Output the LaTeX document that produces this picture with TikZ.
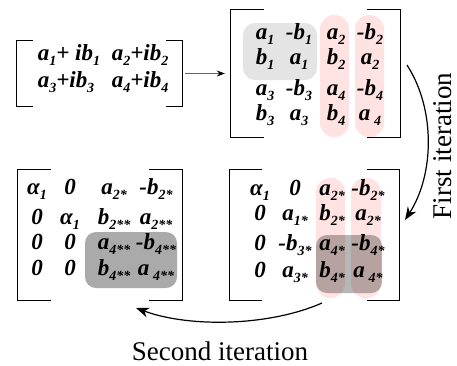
\documentclass[tikz,border=0pt]{standalone}
\usepackage{fontspec}
\setmainfont{Liberation Serif}
\usetikzlibrary{arrows.meta}
\definecolor{boxgray}{RGB}{228,228,228}
\definecolor{colpink}{RGB}{255,226,226}
\definecolor{shadegray}{RGB}{170,170,170}
\newcommand{\ent}[2]{#1\raisebox{-0.22em}{\fontsize{14}{14}\selectfont #2}}
\tikzset{
  entry/.style={font=\fontsize{23}{25}\selectfont\bfseries\itshape, inner sep=0pt, anchor=mid},
  mbox/.style={inner sep=0pt, draw=none},
  bracket/.style={line width=1.1pt},
  iterlabel/.style={font=\fontsize{27}{30}\selectfont, inner sep=0pt},
  iterarrow/.style={line width=1.2pt, -{Stealth[length=13pt, width=10pt, inset=4pt]}}
}
\newcommand{\brackets}[2]{%
  \draw[bracket] ([xshift=#2]#1.north west) -| (#1.south west) -- ++(#2,0);
  \draw[bracket] ([xshift=-#2]#1.north east) -| (#1.south east) -- ++(-#2,0);}

\begin{document}
\begin{tikzpicture}[x=1pt, y=-1pt]
\useasboundingbox (0,0) rectangle (457,365);

% matrix regions
\node (m1) [mbox, minimum width=165pt, minimum height=65pt] at (99.5,73.5) {};
\node (m2) [mbox, minimum width=169pt, minimum height=127pt] at (315.5,73.5) {};
\node (m3) [mbox, minimum width=164pt, minimum height=130pt] at (100,235) {};
\node (m4) [mbox, minimum width=170pt, minimum height=130pt] at (314.5,235) {};

% shaded blocks
\fill[boxgray, rounded corners=12pt] (243,23) rectangle (317,80);
\fill[colpink, rounded corners=14pt] (320,15) rectangle (349,137);
\fill[colpink, rounded corners=14pt] (355,15) rectangle (384,137);
\fill[shadegray, rounded corners=11pt] (85,232) rectangle (177,288);
\fill[colpink, rounded corners=14pt] (316,178) rectangle (345,298);
\fill[colpink, rounded corners=14pt] (351,178) rectangle (381,298);
\fill[shadegray!85, blend mode=multiply, rounded corners=11pt] (316,235) rectangle (382,293);

% brackets
\brackets{m1}{16pt}
\brackets{m2}{33pt}
\brackets{m3}{33pt}
\brackets{m4}{33pt}

% complex matrix
\node (m1-1-1) [entry] at (69,58) {\ent{a}{1}+ i\ent{b}{1}};
\node (m1-1-2) [entry] at (140,58) {\ent{a}{2}+i\ent{b}{2}};
\node (m1-2-1) [entry] at (66,85) {\ent{a}{3}+i\ent{b}{3}};
\node (m1-2-2) [entry] at (140,85) {\ent{a}{4}+i\ent{b}{4}};

% real matrix
\foreach \y/\r/\ea/\eb/\ec/\ed in {
  37/1/{\ent{a}{1}}/{-\ent{b}{1}}/{\ent{a}{2}}/{-\ent{b}{2}},
  62/2/{\ent{b}{1}}/{\ent{a}{1}}/{\ent{b}{2}}/{\ent{a}{2}},
  93/3/{\ent{a}{3}}/{-\ent{b}{3}}/{\ent{a}{4}}/{-\ent{b}{4}},
  118/4/{\ent{b}{3}}/{\ent{a}{3}}/{\ent{b}{4}}/{\ent{a\,}{4}}}
{
  \node (m2-\r-1) [entry] at (265,\y) {\ea};
  \node (m2-\r-2) [entry] at (299,\y) {\eb};
  \node (m2-\r-3) [entry] at (336,\y) {\ec};
  \node (m2-\r-4) [entry] at (370,\y) {\ed};
}

% after first iteration
\foreach \y/\r/\ea/\eb/\ec/\ed in {
  193/1/{\ent{α}{1}}/{0}/{\ent{a}{2*}}/{-\ent{b}{2*}},
  218/2/{0}/{\ent{a}{1*}}/{\ent{b}{2*}}/{\ent{a}{2*}},
  248/3/{0}/{-\ent{b}{3*}}/{\ent{a}{4*}}/{-\ent{b}{4*}},
  275/4/{0}/{\ent{a}{3*}}/{\ent{b}{4*}}/{\ent{a\,}{4*}}}
{
  \node (m4-\r-1) [entry] at (260,\y) {\ea};
  \node (m4-\r-2) [entry] at (295,\y) {\eb};
  \node (m4-\r-3) [entry] at (332,\y) {\ec};
  \node (m4-\r-4) [entry] at (368,\y) {\ed};
}

% after second iteration
\foreach \y/\r/\ea/\eb/\ec/\ed in {
  192/1/{\ent{α}{1}}/{0}/{\ent{a}{2*}}/{-\ent{b}{2*}},
  222/2/{0}/{\ent{α}{1}}/{\ent{b}{2**}}/{\ent{a}{2**}},
  247/3/{0}/{0}/{\ent{a}{4**}}/{-\ent{b}{4**}},
  273/4/{0}/{0}/{\ent{b}{4**}}/{\ent{a\,}{4**}}}
{
  \node (m3-\r-1) [entry] at (37,\y) {\ea};
  \node (m3-\r-2) [entry] at (70,\y) {\eb};
  \node (m3-\r-3) [entry] at (114,\y) {\ec};
  \node (m3-\r-4) [entry] at (156,\y) {\ed};
}

% labels
\node (firstlbl) [iterlabel, rotate=90] at (443,146) {First iteration};
\node (secondlbl) [iterlabel] at (220,351) {Second iteration};

% arrows
\coordinate (firstS) at (407,65);
\coordinate (firstE) at (405,220);
\coordinate (secondS) at (322,303);
\coordinate (secondE) at (136,308);
\draw [line width=0.8pt, black!60, -{Stealth[length=8pt, width=6pt, black]}] ([xshift=3pt]m1.east) -- ([xshift=-6pt]m2.west);
\draw [iterarrow] (firstS) .. controls (436,110) and (434,175) .. (firstE);
\draw [iterarrow] (secondS) .. controls (270,326) and (190,328) .. (secondE);

\end{tikzpicture}
\end{document}
